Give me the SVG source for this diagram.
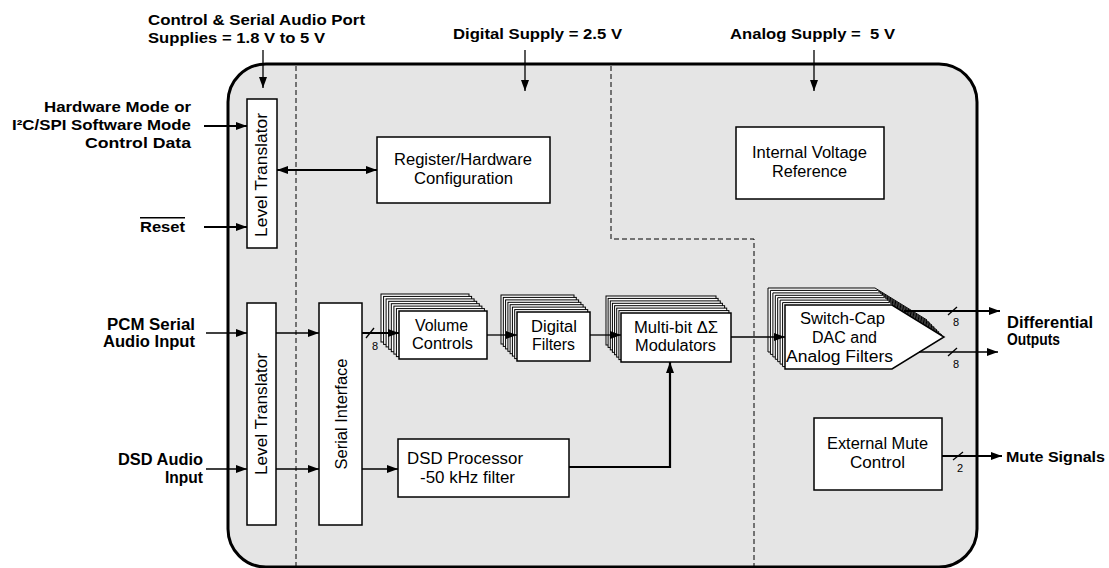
<svg xmlns="http://www.w3.org/2000/svg" width="1109" height="568" viewBox="0 0 1109 568">
<style>
.bl{font-family:"Liberation Sans",Arial,sans-serif;font-weight:bold;font-size:15px;fill:#000;white-space:pre}
.tx{font-family:"Liberation Sans",Arial,sans-serif;font-size:16px;fill:#000}
.sm{font-family:"Liberation Sans",Arial,sans-serif;font-size:11px;fill:#000}
.box{fill:#fff;stroke:#000;stroke-width:1.5}
.lay{fill:#fff;stroke:#000;stroke-width:1}
.c{fill:none;stroke:#000;stroke-width:1.3}
.ck{fill:none;stroke:#000;stroke-width:2.2}
.d{fill:none;stroke:#000;stroke-width:1;stroke-dasharray:5 3}
</style>
<defs>
<marker id="ah" markerUnits="userSpaceOnUse" markerWidth="11" markerHeight="8" refX="11" refY="4" orient="auto-start-reverse"><path d="M0,0 L11,4 L0,8 z" fill="#000"/></marker>
<path id="pent" d="M0,0 H107 L159,32 L107,64 H0 Z"/>
</defs>
<g id="chip">
<rect x="228" y="64" width="749" height="503" rx="38" ry="38" fill="#e5e5e5" stroke="#000" stroke-width="3"/>
<path class="d" d="M296,66 V567"/>
<path class="d" d="M611,66 V239 H754 V567"/>
</g>
<g id="labels">
<text class="bl" x="148" y="25" textLength="217" lengthAdjust="spacingAndGlyphs">Control &amp; Serial Audio Port</text>
<text class="bl" x="148" y="43" textLength="177" lengthAdjust="spacingAndGlyphs">Supplies = 1.8 V to 5 V</text>
<text class="bl" x="453" y="39" textLength="169" lengthAdjust="spacingAndGlyphs">Digital Supply = 2.5 V</text>
<text class="bl" x="730" y="39" textLength="165" lengthAdjust="spacingAndGlyphs">Analog Supply =  5 V</text>
<text class="bl" x="191" y="112" text-anchor="end" textLength="147" lengthAdjust="spacingAndGlyphs">Hardware Mode or</text>
<text class="bl" x="191" y="130" text-anchor="end" textLength="179" lengthAdjust="spacingAndGlyphs">I²C/SPI Software Mode</text>
<text class="bl" x="191" y="148" text-anchor="end" textLength="106" lengthAdjust="spacingAndGlyphs">Control Data</text>
<text class="bl" x="185" y="232" text-anchor="end" textLength="45" lengthAdjust="spacingAndGlyphs" text-decoration="overline">Reset</text>
<text class="bl" x="195" y="330" text-anchor="end" textLength="88" lengthAdjust="spacingAndGlyphs" style="font-size:16px">PCM Serial</text>
<text class="bl" x="195" y="347" text-anchor="end" textLength="92" lengthAdjust="spacingAndGlyphs" style="font-size:16px">Audio Input</text>
<text class="bl" x="203" y="465" text-anchor="end" textLength="85" lengthAdjust="spacingAndGlyphs" style="font-size:16px">DSD Audio</text>
<text class="bl" x="203" y="483" text-anchor="end" textLength="38" lengthAdjust="spacingAndGlyphs" style="font-size:16px">Input</text>
<text class="bl" x="1007" y="328" textLength="86" lengthAdjust="spacingAndGlyphs" style="font-size:16px">Differential</text>
<text class="bl" x="1007" y="345" textLength="53" lengthAdjust="spacingAndGlyphs" style="font-size:16px">Outputs</text>
<text class="bl" x="1006" y="462" textLength="99" lengthAdjust="spacingAndGlyphs">Mute Signals</text>
</g>
<g id="level-translator-ctrl">
<rect class="box" x="247" y="99" width="30" height="149"/>
<text class="tx" transform="translate(267,175) rotate(-90)" text-anchor="middle" textLength="124" lengthAdjust="spacingAndGlyphs">Level Translator</text>
</g>
<g id="register-config">
<rect class="box" x="377" y="137" width="173" height="66"/>
<text class="tx" x="463" y="165" text-anchor="middle" textLength="138" lengthAdjust="spacingAndGlyphs">Register/Hardware</text>
<text class="tx" x="463.5" y="184" text-anchor="middle" textLength="99" lengthAdjust="spacingAndGlyphs">Configuration</text>
</g>
<g id="voltage-ref">
<rect class="box" x="736" y="127" width="148" height="72"/>
<text class="tx" x="809.5" y="158" text-anchor="middle" textLength="115" lengthAdjust="spacingAndGlyphs">Internal Voltage</text>
<text class="tx" x="809.5" y="177" text-anchor="middle" textLength="75" lengthAdjust="spacingAndGlyphs">Reference</text>
</g>
<g id="level-translator-audio">
<rect class="box" x="247" y="303" width="29" height="222"/>
<text class="tx" transform="translate(267,414) rotate(-90)" text-anchor="middle" textLength="122" lengthAdjust="spacingAndGlyphs">Level Translator</text>
</g>
<g id="serial-interface">
<rect class="box" x="319" y="303" width="43" height="222"/>
<text class="tx" transform="translate(347,414) rotate(-90)" text-anchor="middle" textLength="111" lengthAdjust="spacingAndGlyphs">Serial Interface</text>
</g>
<g id="volume-controls">
<rect class="lay" x="381" y="294" width="88" height="48"/>
<rect class="lay" x="383.6" y="296.4" width="88" height="48"/>
<rect class="lay" x="386.1" y="298.9" width="88" height="48"/>
<rect class="lay" x="388.7" y="301.3" width="88" height="48"/>
<rect class="lay" x="391.3" y="303.7" width="88" height="48"/>
<rect class="lay" x="393.9" y="306.1" width="88" height="48"/>
<rect class="lay" x="396.4" y="308.6" width="88" height="48"/>
<rect class="box" x="399" y="311" width="88" height="48"/>
<text class="tx" x="441.5" y="331" text-anchor="middle" textLength="53" lengthAdjust="spacingAndGlyphs">Volume</text>
<text class="tx" x="442.5" y="349" text-anchor="middle" textLength="61" lengthAdjust="spacingAndGlyphs">Controls</text>
</g>
<g id="digital-filters">
<rect class="lay" x="501" y="295" width="73" height="49"/>
<rect class="lay" x="503.3" y="297.4" width="73" height="49"/>
<rect class="lay" x="505.6" y="299.9" width="73" height="49"/>
<rect class="lay" x="507.9" y="302.3" width="73" height="49"/>
<rect class="lay" x="510.1" y="304.7" width="73" height="49"/>
<rect class="lay" x="512.4" y="307.1" width="73" height="49"/>
<rect class="lay" x="514.7" y="309.6" width="73" height="49"/>
<rect class="box" x="517" y="312" width="73" height="49"/>
<text class="tx" x="554" y="332" text-anchor="middle" textLength="46" lengthAdjust="spacingAndGlyphs">Digital</text>
<text class="tx" x="553.5" y="350" text-anchor="middle" textLength="43" lengthAdjust="spacingAndGlyphs">Filters</text>
</g>
<g id="modulators">
<rect class="lay" x="606" y="296" width="110" height="49"/>
<rect class="lay" x="608.1" y="298.4" width="110" height="49"/>
<rect class="lay" x="610.3" y="300.9" width="110" height="49"/>
<rect class="lay" x="612.4" y="303.3" width="110" height="49"/>
<rect class="lay" x="614.6" y="305.7" width="110" height="49"/>
<rect class="lay" x="616.7" y="308.1" width="110" height="49"/>
<rect class="lay" x="618.9" y="310.6" width="110" height="49"/>
<rect class="box" x="621" y="313" width="110" height="49"/>
<text class="tx" x="676" y="333" text-anchor="middle" textLength="84" lengthAdjust="spacingAndGlyphs">Multi-bit ΔΣ</text>
<text class="tx" x="675.5" y="351" text-anchor="middle" textLength="81" lengthAdjust="spacingAndGlyphs">Modulators</text>
</g>
<g id="dac">
<use href="#pent" class="lay" x="768" y="288"/>
<use href="#pent" class="lay" x="770.4" y="290.4"/>
<use href="#pent" class="lay" x="772.9" y="292.9"/>
<use href="#pent" class="lay" x="775.3" y="295.3"/>
<use href="#pent" class="lay" x="777.7" y="297.7"/>
<use href="#pent" class="lay" x="780.1" y="300.1"/>
<use href="#pent" class="lay" x="782.6" y="302.6"/>
<use href="#pent" class="box" x="785" y="305"/>
<text class="tx" x="842.5" y="324" text-anchor="middle" textLength="85" lengthAdjust="spacingAndGlyphs">Switch-Cap</text>
<text class="tx" x="844.5" y="343" text-anchor="middle" textLength="65" lengthAdjust="spacingAndGlyphs">DAC and</text>
<text class="tx" x="839.5" y="362" text-anchor="middle" textLength="107" lengthAdjust="spacingAndGlyphs">Analog Filters</text>
</g>
<g id="dsd-processor">
<rect class="box" x="398" y="439" width="171" height="58"/>
<text class="tx" x="407" y="464" textLength="116" lengthAdjust="spacingAndGlyphs">DSD Processor</text>
<text class="tx" x="420" y="483" textLength="95" lengthAdjust="spacingAndGlyphs">-50 kHz filter</text>
</g>
<g id="mute-control">
<rect class="box" x="814" y="418" width="128" height="72"/>
<text class="tx" x="877.5" y="449" text-anchor="middle" textLength="101" lengthAdjust="spacingAndGlyphs">External Mute</text>
<text class="tx" x="877.5" y="468" text-anchor="middle" textLength="55" lengthAdjust="spacingAndGlyphs">Control</text>
</g>
<g id="connectors">
<path class="c" d="M263,50 V88" marker-end="url(#ah)"/>
<path class="c" d="M525,50 V91" marker-end="url(#ah)"/>
<path class="c" d="M814,50 V91" marker-end="url(#ah)"/>
<path class="ck" d="M204,126 H247" marker-end="url(#ah)"/>
<path class="ck" d="M204,227 H247" marker-end="url(#ah)"/>
<path class="ck" d="M277,170 H377" marker-start="url(#ah)" marker-end="url(#ah)"/>
<path class="c" d="M206,333 H247" marker-end="url(#ah)"/>
<path class="c" d="M276,333 H319" marker-end="url(#ah)"/>
<path class="c" d="M206,469 H247" marker-end="url(#ah)"/>
<path class="c" d="M276,469 H319" marker-end="url(#ah)"/>
<path class="c" d="M362,469 H398" marker-end="url(#ah)"/>
<path class="ck" d="M362,333 H399" marker-end="url(#ah)"/>
<path class="c" d="M366,338 L374,328"/>
<text class="sm" x="375" y="350" text-anchor="middle">8</text>
<path class="c" d="M487,335 H517" marker-end="url(#ah)"/>
<path class="c" d="M590,335 H621" marker-end="url(#ah)"/>
<path class="c" d="M731,337 H785" marker-end="url(#ah)"/>
<path class="ck" d="M569,467 H670 V362" marker-end="url(#ah)"/>
<path class="ck" d="M904,311 H1000" marker-end="url(#ah)"/>
<path class="c" d="M948,315 L957,307"/>
<text class="sm" x="956" y="326" text-anchor="middle">8</text>
<path class="c" d="M919,352 H998" marker-end="url(#ah)"/>
<path class="c" d="M948,356 L957,348"/>
<text class="sm" x="956" y="368" text-anchor="middle">8</text>
<path class="ck" d="M942,456 H1002" marker-end="url(#ah)"/>
<path class="c" d="M953,460 L963,452"/>
<text class="sm" x="960" y="472" text-anchor="middle">2</text>
</g>
</svg>
